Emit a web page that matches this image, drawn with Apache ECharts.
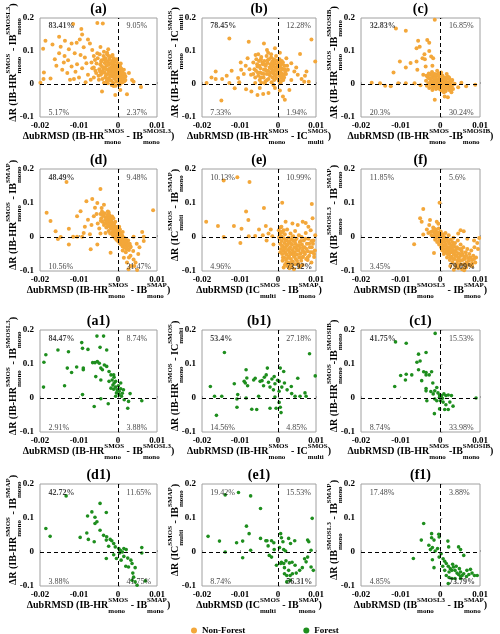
<!DOCTYPE html>
<html>
<head>
<meta charset="utf-8">
<script src="https://cdn.jsdelivr.net/npm/echarts@6/dist/echarts.min.js"></script>
<style>
  html, body { margin: 0; padding: 0; background: #fff; }
  #chart { width: 500px; height: 634px; }
</style>
</head>
<body>
<div id="chart"></div>
<script>
// ---- data ----
var panelTitles = ['(a)', '(b)', '(c)', '(d)', '(e)', '(f)', '(a1)', '(b1)', '(c1)', '(d1)', '(e1)', '(f1)'];
var xTicks = [-0.02, -0.01, 0, 0.01];
var yTicks = [-0.1, 0, 0.1, 0.2];

// quadrant percentages: upper-left, upper-right, lower-left, lower-right
var percents = [
  ['83.41%', '9.05%', '5.17%', '2.37%'],
  ['78.45%', '12.28%', '7.33%', '1.94%'],
  ['32.83%', '16.85%', '20.3%', '30.24%'],
  ['48.49%', '9.48%', '10.56%', '31.47%'],
  ['10.13%', '10.99%', '4.96%', '73.92%'],
  ['11.85%', '5.6%', '3.45%', '79.09%'],
  ['84.47%', '8.74%', '2.91%', '3.88%'],
  ['53.4%', '27.18%', '14.56%', '4.85%'],
  ['41.75%', '15.53%', '8.74%', '33.98%'],
  ['42.72%', '11.65%', '3.88%', '41.75%'],
  ['19.42%', '15.53%', '8.74%', '56.31%'],
  ['17.48%', '3.88%', '4.85%', '73.79%']
];

// product differences used in axis names (strings = normal text, pairs = [superscript, subscript])
var diffA = ['IB-HR', ['SMOS', 'mono'], ' - IB', ['SMOSL3', 'mono']];
var diffB = ['IB-HR', ['SMOS', 'mono'], ' - IC', ['SMOS', 'multi']];
var diffC = ['IB-HR', ['SMOS', 'mono'], '-IB', ['SMOSIB', 'mono']];
var diffD = ['IB-HR', ['SMOS', 'mono'], ' - IB', ['SMAP', 'mono']];
var diffE = ['IC', ['SMOS', 'multi'], ' - IB', ['SMAP', 'mono']];
var diffF = ['IB', ['SMOSL3', 'mono'], ' - IB', ['SMAP', 'mono']];

// [ΔubRMSD, ΔR]
var nonForestA = [
  [-.0053,.185],[-.0039,.183],[-.0115,.182],[-.0094,.167],[-.0092,.15],[-.0186,.131],[-.0192,.107],[-.0151,.143],
  [-.0136,.131],[-.0119,.123],[-.0106,.125],[-.0077,.135],[-.0072,.123],[-.0147,.113],[-.0126,.105],[-.0088,.111],
  [-.0151,.093],[-.0137,.085],[-.0111,.093],[-.0096,.088],[-.0066,.103],[-.0053,.093],[-.0036,.098],[-.0028,.095],
  [-.019,.035],[-.0191,.015],[-.0173,.017],[-.0143,.043],[-.0139,.065],[-.013,.033],[-.0119,.053],[-.0109,.037],
  [-.0123,.013],[-.01,.02],[-.0092,.048],[-.0081,.063],[-.0077,.028],[-.007,.013],[-.0066,.048],[-.0059,.073],
  [-.0056,.033],[-.0049,.013],[-.0045,.058],[-.0041,.033],[-.0036,.075],[-.0199,.004],[-.0041,-.023],[-.0011,-.006],
  [-.0007,-.033],[.0023,-.031],[.0059,-.009],[.0006,-.018],[.0036,.012],[.0028,.033],[.0015,.043],[.0019,.023],
  [.004,.007],[-.0162,.075],[-.0128,.072],[-.0105,.06],[-.0085,.08],[-.0062,.085],[-.0158,.055],[-.0113,.015],
  [-.0083,.005],[-.0062,.02],[-.0025,.105],[-.0045,.112],[-.0098,.135],[-.0168,.12],
  [-.0048,.045],[-.0045,.06],[-.0044,.028],[-.0042,.072],[-.004,.015],[-.0038,.05],[-.0037,.085],[-.0035,.035],
  [-.0034,.064],[-.0033,.02],[-.0032,.078],[-.003,.045],[-.003,.055],[-.0029,.008],[-.0028,.09],[-.0027,.03],
  [-.0026,.068],[-.0025,.04],[-.0024,.058],[-.0023,.018],[-.0022,.075],[-.0021,.048],[-.002,.026],[-.002,.062],
  [-.0019,.083],[-.0018,.036],[-.0017,.01],[-.0016,.052],[-.0015,.07],[-.0014,.022],[-.0013,.042],[-.0012,.06],
  [-.0012,.003],[-.0011,.078],[-.001,.032],[-.0009,.05],[-.0008,.015],[-.0008,.067],[-.0007,.04],[-.0006,.025],
  [-.0005,.056],[-.0004,.007],[-.0003,.045],[-.0002,.033],[-.0001,.064],[0,.018],[.0001,.05],[.0002,.028],
  [.0003,.04],[.0004,.008],[.0005,.058],[.0006,.02],[.0007,.035],[.0008,.047],[.0009,.012],[.001,.028],
  [.0011,.038],[.0012,.005],[.0013,.022],[.0015,.015],[.0017,.03],[-.0036,.004],[-.0026,.002],[-.0016,-.003],
  [-.0006,-.005],[.0004,-.002],[-.0046,.038],[-.0041,.052],[-.0031,.026],[-.0021,.036],
  [-.0058,.04],[-.0055,.062],[-.0052,.078],[-.005,.025],[-.0047,.09],[-.0043,.068],[-.0039,.04],[-.0034,.048],
  [-.0031,.07],[-.0027,.058],[-.0024,.085],[-.0022,.012],[-.0019,.044],[-.0017,.064],[-.0014,.088],[-.0013,.03],
  [-.001,.072],[-.0009,.02],[-.0007,.054],[-.0004,.036],[-.0003,.075],[0,.06],[.0002,.042],[.0004,.028],
  [.0006,.05],[.0008,.004],[.001,.04],[.0014,.03],[.0016,.008],[.0019,.012],[-.0062,.05],[-.0068,.065],
  [-.0028,.015],[-.0011,.045],[.0007,.062]
];
var nonForestB = [
  [-.0128,.138],[-.0077,.128],[.0088,.135],[.0098,.068],[.0058,.091],[.0075,.038],[.0071,.025],[.0081,.007],
  [.0069,.007],[-.0188,.003],[-.0164,.038],[-.0164,.015],[-.0147,.015],[-.0149,-.05],[-.0122,.04],[-.0114,-.013],
  [-.0098,.065],[-.0084,-.016],[-.007,-.023],[-.0054,-.033],[-.0039,-.03],[-.0025,-.027],[.0013,-.038],[.0018,-.048],
  [.003,-.018],[-.0037,.123],[-.0029,.103],[-.0008,.108],[-.0059,.088],[-.008,.078],[-.0097,.043],[-.0071,.028],
  [-.0054,.053],[-.0037,.043],[.0022,.078],[.0035,.063],[.0043,.038],[.0052,.028],[.0035,.012],[.0013,.023],
  [.0026,.043],[-.0175,.02],[-.0135,.025],[-.0105,.018],[-.009,.03],[-.0085,.055],[-.0065,.065],[-.0045,.075],
  [-.0102,.005],[-.0128,.003],[-.006,.003],[-.0044,.004],[-.0075,.045],[.0048,.05],[.0062,.015],[.0005,.095],
  [-.0018,.09],[.001,.07],[-.0008,-.012],[.0005,-.02],[-.0048,-.012],
  [-.0058,.04],[-.0055,.06],[-.0052,.025],[-.005,.07],[-.0048,.012],[-.0046,.048],[-.0044,.082],[-.0042,.032],
  [-.004,.06],[-.0038,.02],[-.0036,.07],[-.0034,.045],[-.0033,.008],[-.0032,.055],[-.003,.085],[-.0029,.03],
  [-.0028,.064],[-.0026,.04],[-.0025,.015],[-.0024,.075],[-.0022,.05],[-.0021,.025],[-.002,.06],[-.0019,.035],
  [-.0018,.08],[-.0017,.005],[-.0016,.045],[-.0015,.068],[-.0014,.02],[-.0013,.055],[-.0012,.032],[-.0011,.075],
  [-.001,.012],[-.0009,.042],[-.0008,.062],[-.0007,.028],[-.0006,.05],[-.0005,.085],[-.0004,.018],[-.0003,.038],
  [-.0002,.07],[-.0001,.058],[0,.03],[.0001,.045],[.0002,.01],[.0003,.065],[.0004,.025],[.0005,.052],
  [.0006,.038],[.0008,.018],[.0009,.06],[.001,.032],[.0012,.045],[.0014,.012],[.0015,.028],[.0017,.055],
  [.0019,.038],[-.0035,.002],[-.0012,-.003],[.0006,.002],[-.0026,.095],
  [-.0062,.045],[-.006,.02],[-.0057,.075],[-.0053,.035],[-.0049,.055],[-.0045,.02],[-.0041,.065],[-.0037,.03],
  [-.0035,.058],[-.0031,.04],[-.0027,.072],[-.0023,.03],[-.0019,.05],[-.0016,.062],[-.0013,.04],[-.001,.052],
  [-.0007,.072],[-.0004,.045],[-.0001,.04],[.0002,.055],[.0004,.075],[.0007,.028],[.001,.048],[.0013,.065],
  [.0016,.02],[.0018,.045],[.0021,.03],[.0024,.055],[-.0029,.012],[-.0009,.025],[.0008,.008],[-.0047,.035],
  [-.0065,.03],[-.0052,.09]
];
var nonForestC = [
  [-.0014,.195],[-.0112,.168],[-.0087,.161],[-.0033,.133],[-.0056,.131],[-.0028,.125],[-.006,.108],[-.0052,.113],
  [-.0102,.068],[-.0118,.035],[-.0087,.05],[-.0075,.064],[-.006,.068],[-.0045,.078],[-.0039,.075],[-.0023,.083],
  [-.0018,.078],[-.0037,.053],[-.002,.055],[-.0058,.043],[-.0043,.028],[-.0173,.004],[-.0152,.002],[-.0139,-.005],
  [-.0125,-.007],[-.0106,.002],[-.0087,.002],[-.0014,-.048],[.0011,-.038],[.0019,-.04],[.0028,-.025],[.0053,.004],
  [.0065,-.007],[.0088,-.002],[.0036,.001],[-.0065,.002],[-.005,-.004],[.0045,-.01],[.003,.012],[.0022,.02],
  [-.0028,.1],[-.004,.09],
  [-.0036,.01],[-.0034,-.005],[-.0032,.022],[-.003,.002],[-.0029,.032],[-.0028,-.012],[-.0026,.015],[-.0025,.028],
  [-.0024,-.002],[-.0022,.008],[-.0021,.036],[-.002,-.018],[-.0019,.02],[-.0018,.004],[-.0017,.026],[-.0016,-.008],
  [-.0015,.012],[-.0014,.03],[-.0013,-.003],[-.0012,.018],[-.0011,-.015],[-.001,.006],[-.0009,.024],[-.0008,-.006],
  [-.0007,.014],[-.0006,.002],[-.0005,.032],[-.0004,-.012],[-.0003,.01],[-.0002,-.002],[-.0001,.02],[0,.004],
  [.0001,-.008],[.0002,.015],[.0003,-.02],[.0004,.006],[.0005,.026],[.0006,-.004],[.0007,.012],[.0008,-.014],
  [.0009,.002],[.001,.02],[.0011,-.008],[.0012,.008],[.0013,-.022],[.0014,.014],[.0015,-.002],[.0016,.03],
  [.0017,-.012],[.0018,.005],[.002,-.006],[.0021,.016],[.0022,-.018],[.0024,.002],[.0026,-.01],[.0028,.008],
  [.003,-.004],[.0032,-.015],[-.0008,.04],[.0002,.035],[-.0023,.018],[.0009,-.025],[-.0001,-.016],[.0019,.022],
  [-.0012,.009],[.0004,-.001],
  [-.003,.018],[-.0025,.005],[-.002,.03],[-.0016,.018],[-.0011,.028],[-.0007,-.012],[-.0003,.025],[.0001,.008],
  [.0005,-.012],[.0009,.016],[.0013,.002],[.0017,.02],[.0021,-.002],[.0025,.012],[-.0035,.025],[.0027,-.018],
  [-.0019,-.01],[.0011,-.018]
];
var nonForestD = [
  [-.0132,.162],[-.0045,.141],[-.0066,.112],[-.0081,.105],[-.0053,.1],[-.0036,.095],[-.0059,.086],[-.0024,.073],
  [-.0096,.076],[-.0077,.051],[-.0062,.061],[-.0183,.071],[-.0173,.047],[-.016,.017],[-.0147,0],[-.0154,-.006],
  [-.0126,.024],[-.0105,.061],[-.0115,.001],[-.0105,.001],[-.0092,.001],[-.0126,-.022],[-.007,-.036],[-.0053,-.022],
  [-.0019,-.046],[.009,.079],[.0062,.015],[.0066,.001],[.0066,-.012],[.004,.001],[.0032,-.027],[.0039,-.041],
  [.0015,-.061],[.0023,-.075],[.004,-.066],[.0042,-.085],[.0049,-.097],[.0027,-.095],[-.0085,.03],[-.0068,.035],
  [-.0052,.04],[-.0088,.012],[-.0072,.008],[-.0045,.01],[-.0055,.068],[-.0042,.085],[.0048,-.02],[.0052,-.05],
  [.0032,-.055],[.0045,-.075],[.0033,-.085],[.0028,-.06],[.002,-.045],[.0012,-.04],[.0055,-.03],
  [-.0045,.068],[-.0043,.055],[-.0041,.075],[-.004,.045],[-.0038,.062],[-.0036,.035],[-.0035,.07],[-.0033,.05],
  [-.0031,.058],[-.003,.028],[-.0029,.042],[-.0028,.065],[-.0026,.035],[-.0025,.05],[-.0024,.018],[-.0023,.058],
  [-.0022,.03],[-.0021,.042],[-.002,.01],[-.0019,.052],[-.0018,.024],[-.0017,.036],[-.0016,.045],[-.0015,.015],
  [-.0014,.03],[-.0013,.005],[-.0012,.04],[-.0011,.022],[-.001,.012],[-.0009,.032],[-.0008,-.002],[-.0007,.02],
  [-.0006,.008],[-.0005,.028],[-.0004,-.008],[-.0003,.014],[-.0002,.002],[-.0001,.022],[0,-.012],[.0001,.008],
  [.0002,-.004],[.0003,.015],[.0004,-.018],[.0005,.002],[.0006,-.01],[.0007,.008],[.0008,-.022],[.0009,-.004],
  [.001,-.015],[.0011,.004],[.0012,-.028],[.0013,-.008],[.0014,-.018],[.0015,-.002],[.0016,-.03],[.0017,-.012],
  [.0018,-.022],[.002,-.006],[.0021,-.035],[.0022,-.015],[.0024,-.026],[.0026,-.01],[.0028,-.038],[.003,-.02],
  [-.0032,.012],[-.0022,.065],[-.0012,.055],[.0003,.03],[.0012,.015],[-.0048,.025],
  [-.0044,.048],[-.0039,.066],[-.0034,.04],[-.003,.052],[-.0027,.046],[-.0023,.038],[-.002,.048],[-.0017,.028],
  [-.0013,.034],[-.001,.04],[-.0008,.01],[-.0005,.018],[-.0002,.03],[0,.005],[.0002,.018],[.0004,-.008],
  [.0006,0],[.0008,-.012],[.001,-.005],[.0013,-.02],[.0015,-.012],[.0018,-.03],[.0019,-.01],[.0023,-.02],
  [.0025,-.035],[.0027,-.025],[.0032,-.03],[-.0015,.06],[-.0007,.045],[.0005,.022],[-.0026,.075]
];
var nonForestE = [
  [-.0107,.176],[-.0143,.166],[-.0075,.162],[-.0037,.085],[-.0084,.075],[-.0078,.05],[-.0189,.045],[-.0158,.032],
  [-.0143,0],[-.0116,.032],[-.0096,.024],[-.0099,-.018],[-.0077,.002],[-.005,.022],[.0011,.101],[.0089,.097],
  [.0091,.055],[.0073,.041],[.008,.03],[-.0032,.032],[-.0019,.022],[.0034,-.083],[.0056,-.088],[.0021,-.078],
  [.0078,-.068],[.0095,-.059],[-.006,.003],[-.004,.005],[-.0025,.01],[-.0015,.002],[-.003,-.01],[-.0012,-.022],
  [.0065,.045],[.0052,.035],[.0038,.04],[.002,.045],[.0098,.005],[.0092,-.02],[.0097,-.04],[.0088,-.075],
  [.0015,-.09],[.0042,-.095],
  [.0002,.02],[.0004,-.005],[.0005,.01],[.0006,-.02],[.0007,.028],[.0008,-.035],[.0009,.002],[.001,-.012],
  [.0011,-.05],[.0012,.015],[.0013,-.028],[.0014,-.04],[.0015,-.004],[.0016,-.06],[.0017,-.018],[.0018,.008],
  [.0019,-.045],[.002,-.03],[.0021,-.068],[.0022,-.01],[.0023,-.052],[.0024,.022],[.0025,-.022],[.0026,-.038],
  [.0027,-.075],[.0028,-.002],[.0029,-.058],[.003,-.015],[.0031,-.045],[.0032,-.03],[.0033,.01],[.0034,-.065],
  [.0035,-.008],[.0036,-.05],[.0037,-.022],[.0038,-.038],[.0039,-.072],[.004,.002],[.0041,-.012],[.0042,-.058],
  [.0043,-.03],[.0044,-.045],[.0045,.018],[.0046,-.02],[.0047,-.065],[.0048,-.035],[.0049,-.005],[.005,-.052],
  [.0052,-.025],[.0053,-.078],[.0054,-.04],[.0055,.005],[.0056,-.06],[.0057,-.015],[.0058,-.032],[.006,-.048],
  [.0061,-.07],[.0062,0],[.0063,-.022],[.0065,-.04],[.0066,-.058],[.0068,-.01],[.007,-.03],[.0071,-.05],
  [.0073,.012],[.0074,-.065],[.0076,-.02],[.0078,-.042],[.008,-.005],[.0082,-.055],[.0084,-.03],[.0086,.02],
  [.0088,-.012],[.009,-.045],[.0025,-.085],[.0035,-.088],[.0012,-.07],[.0009,.03],[.0045,-.08],[.0065,-.082],
  [.0003,0],[.0006,-.045],[.0008,.015],[.001,-.025],[.0013,-.06],[.0015,.02],[.0017,-.035],[.0019,-.008],
  [.0021,-.05],[.0023,-.025],[.0026,-.062],[.0028,-.015],[.003,-.035],[.0032,-.05],[.0034,-.02],[.0036,-.075],
  [.0038,0],[.004,-.045],[.0043,-.055],[.0045,-.01],[.0047,-.03],[.005,-.07],[.0052,-.04],[.0055,-.025],
  [.0058,-.05],[.006,-.012],[.0063,-.06],[.0066,-.03],[.0069,-.045],[.0072,-.005],[.0075,-.035],[.0078,-.06],
  [.0082,-.02],[.0085,-.045],[.0089,-.03],[.0093,-.01],[.0095,-.05],[.0018,-.082],[.003,-.092],[.0058,-.085]
];
var nonForestF = [
  [-.0002,.101],[-.0043,.082],[-.0051,.055],[-.0047,.045],[-.0026,.05],[-.0009,.045],[-.0005,.039],[-.0066,-.021],
  [-.0034,.022],[-.0043,.007],[-.0016,-.047],[.0059,.017],[.0051,.02],[.0098,-.003],[.0093,-.018],[.0034,-.096],
  [-.0028,.035],[-.0018,.028],[-.003,.012],[-.0022,.005],[-.0012,.015],[.0045,.01],[.0068,-.005],[.0085,-.01],
  [.0095,-.035],[.009,-.06],[.008,-.085],[.006,-.098],[.0045,-.092],
  [-.0019,.018],[-.0017,.002],[-.0015,.012],[-.0013,-.008],[-.0011,.022],[-.001,.006],[-.0008,-.015],[-.0007,.014],
  [-.0005,-.002],[-.0004,.025],[-.0003,-.022],[-.0002,.008],[0,-.01],[.0001,.016],[.0002,-.03],[.0003,.002],
  [.0004,-.018],[.0005,-.04],[.0006,.008],[.0007,-.008],[.0008,-.026],[.0009,-.05],[.001,0],[.0011,-.015],
  [.0012,-.035],[.0013,.012],[.0014,-.022],[.0015,-.045],[.0016,-.005],[.0017,-.06],[.0018,-.03],[.0019,-.012],
  [.002,-.04],[.0021,.005],[.0022,-.052],[.0023,-.02],[.0024,-.068],[.0025,-.035],[.0026,-.008],[.0027,-.045],
  [.0028,-.025],[.0029,-.058],[.003,-.015],[.0031,-.075],[.0032,-.038],[.0033,-.002],[.0034,-.05],[.0035,-.028],
  [.0036,-.065],[.0037,-.018],[.0038,-.085],[.0039,-.042],[.004,-.055],[.0042,-.03],[.0043,-.07],[.0044,-.01],
  [.0045,-.048],[.0047,-.062],[.0048,-.035],[.005,-.08],[.0051,-.022],[.0052,-.055],[.0054,-.042],[.0056,-.068],
  [.0058,-.03],[.006,-.058],[.0062,-.09],[.0064,-.045],[.0066,-.075],[.0068,-.035],[.007,-.062],[.0073,-.05],
  [.0075,-.082],[.0078,-.04],[.008,-.068],[.0083,-.055],[.0086,-.03],[.0088,-.075],[.0055,-.095],[.0025,-.085],
  [-.0024,.015],[-.0016,.025],[-.0012,-.002],[-.0006,0],[-.0003,-.01],[.0001,-.02],[.0004,.006],[.0006,-.032],
  [.0009,-.012],[.0011,-.045],[.0013,-.025],[.0016,-.038],[.0018,-.05],[.002,-.015],[.0022,-.03],[.0024,-.045],
  [.0026,-.06],[.0028,-.04],[.003,-.03],[.0032,-.065],[.0034,-.02],[.0036,-.045],[.0038,-.055],[.004,-.035],
  [.0042,-.078],[.0045,-.06],[.0048,-.05],[.005,-.07],[.0053,-.035],[.0056,-.05],[.0059,-.08],[.0062,-.065],
  [.0065,-.055],[.0069,-.08],[.0072,-.07],[.0076,-.06],[.008,-.078],[.0085,-.065],[.0065,-.09],[.0045,-.088]
];

var forestA1 = [
  [-.0054,.182],[-.0037,.182],[-.0093,.163],[-.0154,.141],[-.0127,.136],[-.0091,.146],[-.0077,.143],[-.0046,.149],
  [-.0029,.141],[-.0185,.127],[-.019,.105],[-.013,.088],[-.0119,.075],[-.0106,.091],[-.0089,.088],[-.0089,.083],
  [-.0059,.104],[-.0053,.107],[-.0048,.102],[-.0065,.104],[-.0035,.097],[-.0029,.093],[-.004,.083],[-.0044,.088],
  [-.0023,.078],[-.0057,.063],[-.0044,.053],[-.0018,.068],[-.0011,.068],[-.0023,.049],[-.0015,.053],[-.001,.044],
  [-.0006,.049],[-.0018,.029],[-.0011,.026],[-.0006,.032],[-.0002,.024],[.0003,.02],[.0007,.027],[.0014,.024],
  [.0003,.01],[-.0006,.005],[.0009,.005],[.0016,-.005],[-.0137,.036],[-.0191,.032],[-.0091,.01],[-.0044,-.002],
  [-.0061,-.025],[-.0025,-.017],[.0027,-.01],[.0025,-.03],[.0031,.013],[.0061,-.008],[.0007,.044],[-.001,.061],
  [-.0013,.038],[.0001,.036],[-.0004,.015],[.0011,.014]
];
var forestB1 = [
  [-.0141,.134],[.0083,.13],[.0098,.065],[-.0178,.034],[-.0167,.005],[-.0148,.005],[-.0162,-.051],[-.0115,.042],
  [-.0106,.01],[-.0108,-.003],[-.0108,-.027],[-.0084,.083],[-.0082,.059],[-.0089,.049],[-.0086,.044],[-.008,.036],
  [-.0084,0],[-.0069,-.033],[-.0056,-.034],[-.0064,.053],[-.006,.058],[-.0047,.049],[-.0042,.051],[-.0038,.036],
  [-.0036,.061],[-.0031,.068],[-.0028,.088],[-.0025,.046],[-.0021,.032],[-.0016,.056],[-.001,.063],[-.0008,.042],
  [-.0001,.052],[.0003,.049],[.0006,.088],[.001,.032],[.0015,.078],[.0017,.044],[.0024,.024],[.0035,.034],
  [.0036,.013],[.0045,.005],[.0052,.058],[.0058,.005],[.0071,.015],[.0074,.005],[.0006,-.027],[.0008,-.043],
  [-.0005,-.03],[.0003,-.013],[-.0021,-.03],[-.0051,.005],[-.0012,.024],[.0003,.02],[-.0008,.003]
];
var forestC1 = [
  [-.0013,.19],[-.0113,.165],[-.0086,.161],[-.0036,.134],[-.0055,.129],[-.0051,.109],[-.0059,.105],[-.0086,.07],
  [-.01,.066],[-.0055,.083],[-.0042,.077],[-.0036,.075],[-.0022,.077],[-.0028,.068],[-.0072,.068],[-.0088,.053],
  [-.0036,.068],[-.0047,.051],[-.0115,.034],[-.0019,.044],[-.0009,.031],[-.0036,.028],[-.0036,.021],[-.0024,.019],
  [-.0014,.021],[-.0018,.012],[-.0006,.015],[-.0002,.009],[.0003,.007],[.0009,.012],[.0014,.007],[.002,.009],
  [.0028,.007],[-.0034,-.008],[-.0014,-.003],[-.0009,-.008],[0,-.008],[.0007,-.012],[.0014,-.02],[.0024,-.012],
  [.0032,-.024],[-.0002,-.032],[.0011,-.034],[.002,-.034],[-.0015,-.046],[.009,0],[.0005,-.001],[-.0002,.002]
];
var forestD1 = [
  [-.0133,.165],[-.0046,.143],[-.003,.116],[-.0067,.118],[-.0078,.106],[-.0059,.102],[-.0054,.089],[-.0059,.084],
  [-.008,.056],[-.0097,.043],[-.0076,.037],[-.0061,.03],[-.0185,.069],[-.0174,.046],[-.0046,.064],[-.0037,.049],
  [-.003,.035],[-.0029,.045],[-.002,.037],[-.0016,.033],[-.0011,.025],[-.0007,.015],[-.0024,.017],[.0002,.01],
  [.0006,.005],[.0011,0],[.0004,-.003],[.0015,.01],[.0021,.007],[.0015,-.013],[.0025,-.018],[.0033,-.024],
  [.002,-.042],[.0027,-.044],[.0036,-.034],[-.003,-.019],[-.0011,-.008],[.0044,-.046],[.0038,-.062],[.004,-.074],
  [.0036,-.083],[.0044,-.088],[.0049,-.098],[.0061,.013],[.0061,-.003],[.007,-.085],[-.0004,-.019],[.0008,-.024]
];
var forestE1 = [
  [-.0104,.175],[-.0139,.168],[-.0072,.165],[-.0046,.128],[-.0083,.076],[-.0076,.054],[-.0184,.046],[-.0154,.032],
  [-.0139,0],[-.0109,.027],[-.0093,.032],[-.0093,-.017],[-.0072,.005],[-.0046,.04],[-.0032,.033],[-.0029,.033],
  [-.0017,.033],[-.0011,.027],[-.0026,.018],[-.001,.007],[-.0023,-.01],[-.0017,-.015],[-.0004,-.039],[.0007,.054],
  [.0009,.042],[.0013,.03],[.0004,.013],[.0015,.007],[.002,.003],[.0028,.04],[.0033,.025],[.0044,.033],
  [.0078,.035],[.0081,.03],[.009,.099],[.0087,.005],[.0009,-.03],[.0015,-.034],[.0021,-.026],[.003,-.032],
  [.0037,-.03],[.0045,-.039],[.0028,-.054],[.0017,-.064],[.0023,-.069],[.0032,-.069],[.0038,-.064],[.0048,-.062],
  [.0057,-.054],[.0064,-.046],[.007,-.02],[.0074,-.029],[.0078,-.015],[.0087,-.044],[.0093,-.054],[.0023,-.088],
  [.0032,-.083],[.0017,-.046],[.0007,-.034]
];
var forestF1 = [
  [-.0042,.084],[-.0048,.035],[-.0068,-.019],[-.0022,.054],[-.0022,.042],[-.0004,.052],[-.0003,.044],[-.0016,.035],
  [-.0029,.02],[-.002,.013],[-.0025,.007],[-.0013,.003],[-.0007,.01],[.0019,.032],[.0021,.015],[.0046,.015],
  [.0051,.007],[.0059,-.01],[-.0016,-.046],[-.002,-.023],[-.0003,-.015],[.0002,-.005],[.0007,-.02],[.0011,-.027],
  [.0015,-.034],[.002,-.042],[.0025,-.049],[.0029,-.054],[.0033,-.044],[.0037,-.054],[.0042,-.062],[.0046,-.066],
  [.0051,-.072],[.0055,-.069],[.0059,-.064],[.0066,-.072],[.0072,-.066],[.008,-.062],[.0086,-.069],[.0015,-.069],
  [.0022,-.075],[.0029,-.078],[.0037,-.078],[.0051,-.078],[.002,-.093],[.0006,-.042],[.0011,-.054],[.0022,-.059],
  [.0031,-.036],[.004,-.042],[.0048,-.049],[.0051,-.059],[.0067,-.054],[.0076,-.051],[.0093,-.069]
];

var panelData = [nonForestA, nonForestB, nonForestC, nonForestD, nonForestE, nonForestF,
                 forestA1, forestB1, forestC1, forestD1, forestE1, forestF1];
var panelDiffs = [diffA, diffB, diffC, diffD, diffE, diffF, diffA, diffB, diffC, diffD, diffE, diffF];

// ---- layout ----
var FONT = '"Liberation Serif", "Times New Roman", serif';
var cols = [{left: 40, width: 117}, {left: 202, width: 114}, {left: 361, width: 119}];
var rows = [{top: 18, height: 99}, {top: 169, height: 102}, {top: 330, height: 102}, {top: 484, height: 102}];
var ORANGE = '#F3A73A', GREEN = '#1E8E1E';

var ctx = document.createElement('canvas').getContext('2d');
function textWidth(t, size) {
    ctx.font = 'bold ' + size + 'px ' + FONT;
    return ctx.measureText(t).width;
}

// axis name with stacked super/subscripts, as a graphic group
function axisName(parts, x, y, vertical) {
    var kids = [], pos = 0;
    var MAIN = 10, SMALL = 7;
    for (var i = 0; i < parts.length; i++) {
        var p = parts[i];
        if (typeof p === 'string') {
            kids.push({type: 'text', x: pos, y: 0, style: {text: p, font: 'bold ' + MAIN + 'px ' + FONT, fill: '#000',
                textVerticalAlign: 'middle', verticalAlign: 'middle'}});
            pos += textWidth(p, MAIN);
        } else {
            kids.push({type: 'text', x: pos, y: -5, style: {text: p[0], font: 'bold ' + SMALL + 'px ' + FONT, fill: '#000',
                textVerticalAlign: 'middle', verticalAlign: 'middle'}});
            kids.push({type: 'text', x: pos, y: 6, style: {text: p[1], font: 'bold ' + SMALL + 'px ' + FONT, fill: '#000',
                textVerticalAlign: 'middle', verticalAlign: 'middle'}});
            pos += Math.max(textWidth(p[0], SMALL), textWidth(p[1], SMALL));
        }
    }
    for (var k = 0; k < kids.length; k++) kids[k].x -= pos / 2;
    return {type: 'group', x: x, y: y, rotation: vertical ? Math.PI / 2 : 0, z: 100, children: kids};
}

var grids = [], xAxes = [], yAxes = [], series = [], graphics = [];
for (var i = 0; i < 12; i++) {
    var c = cols[i % 3], r = rows[Math.floor(i / 3)];
    grids.push({left: c.left, top: r.top, width: c.width, height: r.height,
        show: true, borderColor: '#a0a0a0', borderWidth: 1});
    xAxes.push({gridIndex: i, type: 'value', min: xTicks[0], max: xTicks[xTicks.length - 1], interval: 0.01,
        axisLine: {show: false}, splitLine: {show: false},
        axisTick: {show: true, inside: true, length: 2, lineStyle: {color: '#a0a0a0'}},
        axisLabel: {fontFamily: FONT, fontWeight: 'bold', fontSize: 9, color: '#000', margin: 4,
            formatter: function (v) { return String(+v.toFixed(3)); }}});
    yAxes.push({gridIndex: i, type: 'value', min: yTicks[0], max: yTicks[yTicks.length - 1], interval: 0.1,
        axisLine: {show: false}, splitLine: {show: false},
        axisTick: {show: true, inside: true, length: 2, lineStyle: {color: '#a0a0a0'}},
        axisLabel: {fontFamily: FONT, fontWeight: 'bold', fontSize: 9, color: '#000', margin: 6,
            formatter: function (v) { return String(+v.toFixed(2)); }}});

    var forest = i >= 6;
    series.push({
        name: forest ? 'Forest' : 'Non-Forest', type: 'scatter', xAxisIndex: i, yAxisIndex: i,
        data: panelData[i], symbolSize: forest ? 3.6 : 4, itemStyle: {color: forest ? GREEN : ORANGE, opacity: 1},
        markLine: {silent: true, symbol: 'none', label: {show: false},
            lineStyle: {type: [4, 3], color: '#000', width: 1},
            data: [{xAxis: 0}, {yAxis: 0}]}
    });

    // quadrant percentages, largest in bold
    var pc = percents[i];
    var vals = pc.map(function (s) { return parseFloat(s); });
    var big = vals.indexOf(Math.max.apply(null, vals));
    var spots = [[-0.0178, 0.175], [0.0022, 0.175], [-0.0178, -0.087], [0.0022, -0.087]];
    series.push({
        name: 'pct' + i, type: 'scatter', xAxisIndex: i, yAxisIndex: i, z: 10, symbolSize: 0, silent: true,
        data: spots.map(function (s, q) {
            return {value: s, label: {formatter: pc[q], fontWeight: q === big ? 'bold' : 'normal'}};
        }),
        label: {show: true, position: 'inside', align: 'left', verticalAlign: 'middle',
            fontFamily: FONT, fontSize: 8, color: '#111'}
    });

    var cx = c.left + c.width / 2;
    graphics.push({type: 'text', x: cx, y: r.top - 9, z: 100,
        style: {text: panelTitles[i], font: 'bold 14px ' + FONT, fill: '#000',
            textAlign: 'center', align: 'center', textVerticalAlign: 'middle', verticalAlign: 'middle'}});

    var d = panelDiffs[i];
    graphics.push(axisName(['\u0394ubRMSD (' + d[0], d[1], d[2], d[3], ')'], cx, r.top + r.height + 19, false));
    graphics.push(axisName(['\u0394R (' + d[0], d[1], d[2], d[3], ')'], c.left - 27, r.top + r.height / 2 - 5, true));
}

var chart = echarts.init(document.getElementById('chart'));
chart.setOption({
    animation: false,
    backgroundColor: '#fff',
    grid: grids,
    xAxis: xAxes,
    yAxis: yAxes,
    legend: {
        data: ['Non-Forest', 'Forest'], left: 186, top: 621, icon: 'circle', itemWidth: 6, itemHeight: 6, itemGap: 58,
        textStyle: {fontFamily: FONT, fontWeight: 'bold', fontSize: 9, color: '#000'}
    },
    graphic: graphics,
    series: series
});
</script>
</body>
</html>
